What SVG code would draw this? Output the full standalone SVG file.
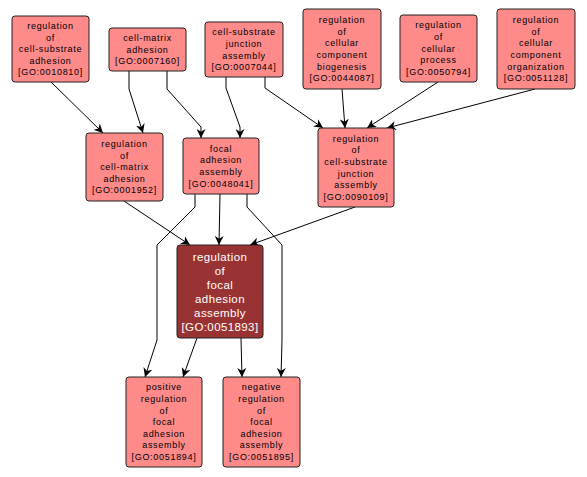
<svg xmlns="http://www.w3.org/2000/svg" width="587" height="477" viewBox="0 0 587 477">
<style>
.n rect{fill:#ff8a8a;stroke:#222;stroke-width:1}
.n text{font-family:"Liberation Sans",Arial,sans-serif;font-size:9px;letter-spacing:0.7px;fill:#000;text-anchor:middle}
.m rect{fill:#993333;stroke:#222;stroke-width:1}
.m text{font-family:"Liberation Sans",Arial,sans-serif;font-size:11.5px;letter-spacing:0.4px;fill:#fff;text-anchor:middle}
.e path{fill:none;stroke:#000;stroke-width:1;marker-end:url(#ah)}
</style>
<defs>
<marker id="ah" viewBox="0 0 10 10" refX="10" refY="5" markerWidth="9" markerHeight="9" markerUnits="userSpaceOnUse" orient="auto">
<path d="M0,0 L10,5 L0,10 L3,5 z" fill="#000"/>
</marker>
</defs>
<rect width="587" height="477" fill="#fff"/>
<g id="edges" class="e">
<path d="M51,82 L103,133"/>
<path d="M129,71 L129,89 L143,133"/>
<path d="M167,71 L167,89 L201,127 L201,138"/>
<path d="M226,77 L226,88 L240,127 L240,138"/>
<path d="M265,77 L265,88 L323,128"/>
<path d="M342,89 L345,128"/>
<path d="M438,82 L367,128"/>
<path d="M535,89 L387,128"/>
<path d="M124,201 L190,245"/>
<path d="M220,194 L219,245"/>
<path d="M355,207 L250,245"/>
<path d="M195,194 L195,207 L157,245 L157,340 L145,377"/>
<path d="M247,194 L247,207 L282,245 L282,340 L281,377"/>
<path d="M197,338 L183,377"/>
<path d="M241,338 L242,377"/>
</g>
<g id="GO0010810" class="n"><rect x="12" y="16" width="77" height="66" rx="3"/>
<text x="50.5" y="28.9">regulation</text><text x="50.5" y="40.5">of</text><text x="50.5" y="52.1">cell-substrate</text><text x="50.5" y="63.7">adhesion</text><text x="50.5" y="75.3">[GO:0010810]</text></g>
<g id="GO0007160" class="n"><rect x="109" y="28" width="77" height="43" rx="3"/>
<text x="147.5" y="41.1">cell-matrix</text><text x="147.5" y="52.7">adhesion</text><text x="147.5" y="64.3">[GO:0007160]</text></g>
<g id="GO0007044" class="n"><rect x="205" y="22" width="78" height="55" rx="3"/>
<text x="244" y="35.3">cell-substrate</text><text x="244" y="46.9">junction</text><text x="244" y="58.5">assembly</text><text x="244" y="70.1">[GO:0007044]</text></g>
<g id="GO0044087" class="n"><rect x="303" y="9" width="78" height="80" rx="3"/>
<text x="342" y="23.2">regulation</text><text x="342" y="34.8">of</text><text x="342" y="46.4">cellular</text><text x="342" y="58">component</text><text x="342" y="69.6">biogenesis</text><text x="342" y="81.2">[GO:0044087]</text></g>
<g id="GO0050794" class="n"><rect x="400" y="15" width="77" height="67" rx="3"/>
<text x="438.5" y="28.4">regulation</text><text x="438.5" y="40">of</text><text x="438.5" y="51.6">cellular</text><text x="438.5" y="63.2">process</text><text x="438.5" y="74.8">[GO:0050794]</text></g>
<g id="GO0051128" class="n"><rect x="497" y="9" width="78" height="80" rx="3"/>
<text x="536" y="23.2">regulation</text><text x="536" y="34.8">of</text><text x="536" y="46.4">cellular</text><text x="536" y="58">component</text><text x="536" y="69.6">organization</text><text x="536" y="81.2">[GO:0051128]</text></g>
<g id="GO0001952" class="n"><rect x="86" y="133" width="77" height="68" rx="3"/>
<text x="124.5" y="146.9">regulation</text><text x="124.5" y="158.5">of</text><text x="124.5" y="170.1">cell-matrix</text><text x="124.5" y="181.7">adhesion</text><text x="124.5" y="193.3">[GO:0001952]</text></g>
<g id="GO0048041" class="n"><rect x="183" y="138" width="76" height="56" rx="3"/>
<text x="221" y="151.8">focal</text><text x="221" y="163.4">adhesion</text><text x="221" y="175">assembly</text><text x="221" y="186.6">[GO:0048041]</text></g>
<g id="GO0090109" class="n"><rect x="318" y="128" width="76" height="79" rx="3"/>
<text x="356" y="141.7">regulation</text><text x="356" y="153.3">of</text><text x="356" y="164.9">cell-substrate</text><text x="356" y="176.5">junction</text><text x="356" y="188.1">assembly</text><text x="356" y="199.7">[GO:0090109]</text></g>
<g id="GO0051893" class="m"><rect x="177" y="245" width="86" height="93" rx="3"/>
<text x="220" y="260.5">regulation</text><text x="220" y="274.5">of</text><text x="220" y="288.5">focal</text><text x="220" y="302.5">adhesion</text><text x="220" y="316.5">assembly</text><text x="220" y="330.5">[GO:0051893]</text></g>
<g id="GO0051894" class="n"><rect x="126" y="377" width="76" height="90" rx="3"/>
<text x="164" y="390.4">positive</text><text x="164" y="402">regulation</text><text x="164" y="413.6">of</text><text x="164" y="425.2">focal</text><text x="164" y="436.8">adhesion</text><text x="164" y="448.4">assembly</text><text x="164" y="460">[GO:0051894]</text></g>
<g id="GO0051895" class="n"><rect x="223" y="377" width="77" height="90" rx="3"/>
<text x="261.5" y="390.4">negative</text><text x="261.5" y="402">regulation</text><text x="261.5" y="413.6">of</text><text x="261.5" y="425.2">focal</text><text x="261.5" y="436.8">adhesion</text><text x="261.5" y="448.4">assembly</text><text x="261.5" y="460">[GO:0051895]</text></g>
</svg>
